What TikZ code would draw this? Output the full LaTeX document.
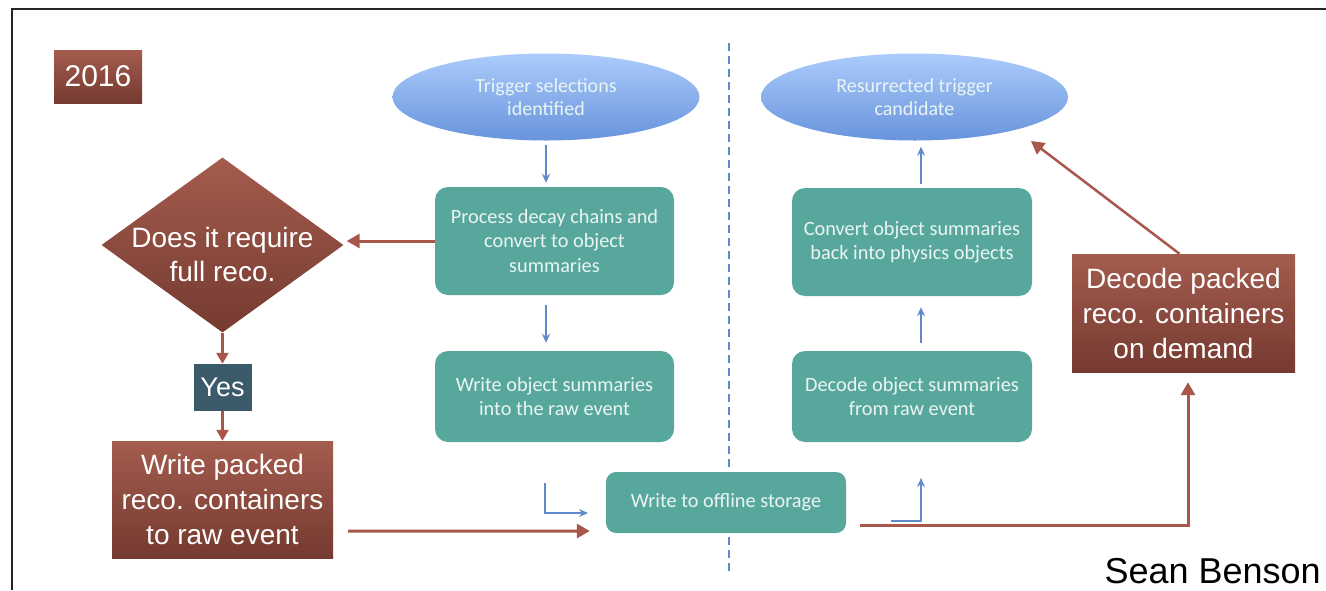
\documentclass[tikz,border=0pt]{standalone}
\usepackage{fontspec}
\setmainfont{Liberation Sans}
\newfontfamily\calibfont{Carlito}
\usepackage{xcolor}
\usepackage{tikz}
\usetikzlibrary{positioning, arrows.meta, calc, shapes.geometric}
\definecolor{browntop}{HTML}{A45C4E}
\definecolor{brownbot}{HTML}{753A30}
\definecolor{tealfill}{HTML}{58A79C}
\definecolor{tealtext}{HTML}{EAF5F3}
\definecolor{skytop}{HTML}{ABCBFB}
\definecolor{skybot}{HTML}{6894DC}
\definecolor{slate}{HTML}{3B5A6A}
\definecolor{lineblue}{HTML}{5F8BCB}
\definecolor{linered}{HTML}{A9574A}

\tikzset{
  brownbox/.style={rectangle, top color=browntop, bottom color=brownbot, text=white,
    align=center, inner sep=0pt, font=\fontsize{28}{35}\selectfont},
  tealbox/.style={rectangle, rounded corners=13pt, fill=tealfill, text=tealtext,
    align=center, inner sep=0pt, font=\calibfont\fontsize{20.3}{24.5}\selectfont},
  skyoval/.style={ellipse, top color=skytop, bottom color=skybot, text=tealtext,
    align=center, inner sep=0pt, font=\calibfont\fontsize{20}{22.5}\selectfont},
  bluearrow/.style={draw=lineblue, line width=2pt, -{Stealth[length=9pt, width=8pt]}},
  redarrow/.style={draw=linered, line width=3pt, -{Triangle[length=13pt, width=14pt]}},
}

\begin{document}
\begin{tikzpicture}[x=1pt, y=-1pt]
  \useasboundingbox (0,0) rectangle (1326,590);
  \draw[line width=2pt, black!85] (1326,9) -- (12,9) -- (12,590);
  \draw[lineblue, line width=2pt, dash pattern=on 8pt off 5pt] (729,43) -- (729,573);

  \node[brownbox, minimum width=88pt, minimum height=53pt, font=\fontsize{30}{30}\selectfont]
    (year) at (98,76.5) {2016};

  \node[skyoval, minimum width=307pt, minimum height=87pt] (trig) at (546,97)
    {Trigger selections\\identified};
  \node[skyoval, minimum width=307pt, minimum height=87pt] (resur) at (914.5,97)
    {Resurrected trigger\\candidate};

  \node[tealbox, minimum width=239pt, minimum height=108pt] (proc) at (554.5,241)
    {Process decay chains and\\convert to object\\summaries};
  \node[tealbox, minimum width=239pt, minimum height=91pt] (wobj) at (554.5,396.5)
    {Write object summaries\\into the raw event};
  \node[tealbox, minimum width=240pt, minimum height=108pt] (conv) at (912,242)
    {Convert object summaries\\back into physics objects};
  \node[tealbox, minimum width=240pt, minimum height=91pt] (dobj) at (912,396.5)
    {Decode object summaries\\from raw event};
  \node[tealbox, rounded corners=10pt, minimum width=240pt, minimum height=61pt] (store) at (726,502.5)
    {Write to offline storage};

  \node[diamond, top color=browntop, bottom color=brownbot, inner sep=0pt,
    minimum width=242pt, minimum height=175pt] (dia) at (222.5,245) {};
  \node[text=white, align=center, font=\fontsize{28}{34}\selectfont] (diatext)
    at ($(dia.center)+(0,9)$) {Does it require\\full reco.};
  \node[fill=slate, text=white, inner sep=0pt, minimum width=58pt, minimum height=47pt,
    font=\fontsize{27}{27}\selectfont] (yes) at (222.5,387.5) {Yes};
  \node[brownbox, minimum width=221pt, minimum height=117pt] (wpack) at (222.5,499.5)
    {Write packed\\reco. containers\\to raw event};
  \node[brownbox, minimum width=223pt, minimum height=118pt] (dpack) at (1183.5,313)
    {Decode packed\\reco. containers\\on demand};

  \node[anchor=base east, inner sep=0pt, font=\fontsize{36}{36}\selectfont] (author)
    at (1321,583) {Sean Benson};

  \coordinate (bendL) at (545,483);
  \coordinate (endL) at (588,513);
  \coordinate (bendR) at (891,521);
  \coordinate (endR) at (921,478);
  \coordinate (resurIn) at (1031,141);

  \draw[bluearrow, shorten <=4pt, shorten >=4pt] (trig.south) -- (trig.south |- proc.north);
  \draw[bluearrow, shorten <=10pt, shorten >=8pt] (trig.south |- proc.south) -- (trig.south |- wobj.north);
  \draw[bluearrow] (bendL) |- (endL);
  \draw[bluearrow] (bendR) -| (endR);
  \draw[bluearrow, shorten <=8pt, shorten >=11pt] (dobj.north -| endR) -- (conv.south -| endR);
  \draw[bluearrow, shorten <=4pt, shorten >=6pt] (conv.north -| endR) -- (resur.south -| endR);

  \draw[redarrow, shorten >=3pt] (proc.west) -- (proc.west -| dia.east);
  \draw[redarrow, line width=2.5pt, -{Triangle[length=11pt, width=12pt]}] (dia.south) -- (yes.north);
  \draw[redarrow, line width=2.5pt, -{Triangle[length=11pt, width=12pt]}] (yes.south) -- (wpack.north);
  \draw[redarrow, shorten >=16pt] ($(wpack.south east)+(15,-27)$) -- ($(store.west)+(0,28.5)$);
  \draw[redarrow, shorten >=10pt] ($(store.south east)+(14,-8)$) -| ($(dpack.south)+(4.5,0)$);
  \draw[redarrow, line width=2.5pt] ($(dpack.north)+(-4,0)$) -- (resurIn);
\end{tikzpicture}
\end{document}
